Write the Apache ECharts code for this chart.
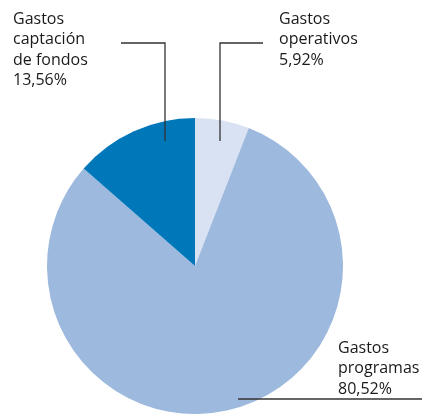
<!DOCTYPE html>
<html>
<head>
<meta charset="utf-8">
<script src="https://cdn.jsdelivr.net/npm/echarts@6/dist/echarts.min.js"></script>
<style>
  html, body { margin: 0; padding: 0; background: #fff; }
  #main { width: 431px; height: 415px; }
</style>
</head>
<body>
<div id="main"></div>
<script>
// datos del gráfico (orden horario desde arriba)
var names = ['Gastos\noperativos', 'Gastos\nprogramas', 'Gastos\ncaptación\nde fondos'];
var values = [5.92, 80.52, 13.56];
var colors = ['#d9e2f2', '#9db9dd', '#0077b9'];

// donde va cada etiqueta y su línea
var labelPos = [
  { x: 279, y: 9, line: [[220, 141], [220, 43], [263, 43]] },
  { x: 338, y: 338, line: [[238, 399], [422, 399]] },
  { x: 13, y: 9, line: [[165, 141], [165, 43], [121, 43]] }
];

var chart = echarts.init(document.getElementById('main'));

var pieData = [];
for (var i = 0; i < names.length; i++) {
  pieData.push({ name: names[i], value: values[i] });
}

// líneas guía encima de la tarta
var guides = labelPos.map(function (l) {
  return {
    type: 'polyline',
    z: 100,
    shape: { points: l.line },
    style: { stroke: '#333', lineWidth: 1.3, fill: null }
  };
});

var option = {
  animation: false,
  color: colors,
  graphic: guides,
  series: [{
    type: 'pie',
    center: [195, 266],
    radius: 148,
    startAngle: 90,
    clockwise: true,
    label: {
      show: true,
      position: 'outside',
      fontFamily: 'Open Sans',
      fontSize: 16,
      lineHeight: 20.5,
      color: '#1a1a1a',
      formatter: function (p) {
        return p.name + '\n' + p.value.toFixed(2).replace('.', ',') + '%';
      }
    },
    labelLine: { show: false },
    labelLayout: function (params) {
      var l = labelPos[params.dataIndex];
      return {
        x: l.x,
        y: l.y,
        align: 'left',
        verticalAlign: 'top'
      };
    },
    emphasis: { disabled: true },
    data: pieData
  }]
};

chart.setOption(option);
</script>
</body>
</html>
